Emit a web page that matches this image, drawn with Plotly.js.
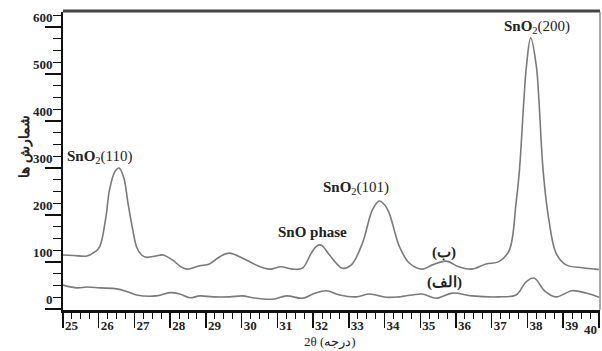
<!DOCTYPE html>
<html>
<head>
<meta charset="utf-8">
<script src="https://cdn.plot.ly/plotly-3.0.1.min.js"></script>
<style>html,body{margin:0;padding:0;background:#fff;}#chart{width:602px;height:351px;}</style>
</head>
<body>
<div id="chart"></div>
<script>
// Curve (ب) – upper pattern
const thetaB = [25.0,25.3,25.67,25.9,26.03,26.2,26.3,26.45,26.57,26.7,26.82,26.95,27.06,27.2,27.35,27.6,27.8,28.07,28.3,28.46,28.83,29.1,29.4,29.66,30.03,30.4,30.78,31.1,31.42,31.7,31.95,32.1,32.23,32.46,32.82,33.07,33.38,33.66,33.85,34.0,34.13,34.3,34.41,34.69,35.06,35.34,35.72,36.08,36.45,36.84,37.2,37.49,37.68,37.77,37.9,37.97,38.09,38.25,38.32,38.44,38.6,38.8,39.08,39.53,39.9,40.0];
const countsB = [115,114,113,122,133,195,253,292,300,280,225,170,132,115,110,113,115,104,90,85,92,96,112,119,108,94,85,90,85,87,119,134,136,115,87,94,140,211,230,222,204,160,134,98,85,94,102,90,85,96,101,125,225,290,445,516,577,516,445,293,189,119,94,88,85,84];
// Curve (الف) – lower pattern
const thetaA = [25.0,25.4,25.67,26.03,26.5,26.8,27.06,27.6,28.0,28.27,28.55,28.83,29.2,29.66,30.03,30.3,30.87,31.26,31.7,32.0,32.37,32.74,33.2,33.58,34.05,34.41,35.06,35.44,35.9,36.45,37.2,37.68,37.96,38.18,38.5,38.8,39.25,39.64,40.0];
const countsA = [51,45,47,45,43,37,30,28,35,32,24,28,26,26,28,24,21,28,23,32,39,30,26,32,25,26,32,23,34,28,26,30,58,66,37,26,39,34,25];

const xTicks = [25,26,27,28,29,30,31,32,33,34,35,36,37,38,39,40];
const yTicks = [0,100,200,300,400,500,600];

const peakLabels = ["<b>SnO</b><sub>2</sub>(110)","<b>SnO phase</b>","<b>SnO</b><sub>2</sub>(101)","<b>SnO</b><sub>2</sub>(200)","<b>(ب)</b>","<b>(الف)</b>"];
const peakX = [26.03,31.98,33.21,38.27,35.67,35.67];
const peakY = [323,164,257,600,121,57];

const serif = "Liberation Serif, DejaVu Serif, serif";
const lineStyle = {color:'#7a7a7a', width:1.6, shape:'spline', smoothing:1};

const traces = [
  {x: thetaB, y: countsB, mode:'lines', line: lineStyle, hoverinfo:'skip'},
  {x: thetaA, y: countsA, mode:'lines', line: lineStyle, hoverinfo:'skip'}
];

const annotations = peakLabels.map((t,i)=>({
  x: peakX[i], y: peakY[i], xref:'x', yref:'y', text: t, showarrow:false,
  font:{family: serif, size:15, color:'#222'}
}));
const lastTick = xTicks[xTicks.length-1];
annotations.push({
  x: lastTick, y: 0, xref:'x', yref:'paper', xanchor:'right', yanchor:'top', yshift:-10,
  text:'<b>'+lastTick+'</b>', showarrow:false,
  font:{family: serif, size:13, color:'#222'}
});
annotations.push({
  x: 0.497, y: -0.108, xref:'paper', yref:'paper', yanchor:'middle', text:'2θ (درجه)', showarrow:false,
  font:{family: serif, size:13, color:'#222'}
});
annotations.push({
  x: -0.09, y: 0.55, xref:'paper', yref:'paper', text:'<b>شمارش ها</b>', textangle:-90, showarrow:false,
  font:{family: serif, size:14, color:'#222'}
});

const layout = {
  width:602, height:351,
  margin:{l:63, r:2, t:12, b:41},
  paper_bgcolor:'#fff', plot_bgcolor:'#fff',
  showlegend:false,
  font:{family: serif},
  xaxis:{
    range:[25,40.03], tickvals: xTicks, ticktext: xTicks.map(v => v===lastTick ? '' : String(v)),
    ticks:'outside', ticklen:15, tickwidth:1.5, tickcolor:'#111',
    ticklabelposition:'outside right', ticklabelstandoff:2,
    minor:{dtick:0.25, ticks:'outside', ticklen:6, tickwidth:1, tickcolor:'#111'},
    showline:true, linecolor:'#111', linewidth:2.5, showgrid:false, zeroline:false,
    tickfont:{family: serif, size:13, color:'#222', weight:'bold'}
  },
  yaxis:{
    range:[-2,632], tickvals: yTicks, ticktext: yTicks.map(String),
    ticks:'outside', ticklen:16, tickwidth:1.5, tickcolor:'#111',
    ticklabelposition:'outside top', ticklabelstandoff:6,
    minor:{dtick:25, ticks:'outside', ticklen:8, tickwidth:1.2, tickcolor:'#111'},
    showline:true, linecolor:'#111', linewidth:2, showgrid:false, zeroline:false,
    tickfont:{family: serif, size:13, color:'#222', weight:'bold'}
  },
  shapes:[
    {type:'line', xref:'paper', yref:'paper', x0:0, x1:1, y0:1.003, y1:1.003, line:{color:'#444', width:3}},
    {type:'line', xref:'paper', yref:'paper', x0:1, x1:1, y0:0, y1:1, line:{color:'#555', width:1}}
  ],
  annotations: annotations
};

Plotly.newPlot('chart', traces, layout, {displayModeBar:false, staticPlot:true});
</script>
</body>
</html>
